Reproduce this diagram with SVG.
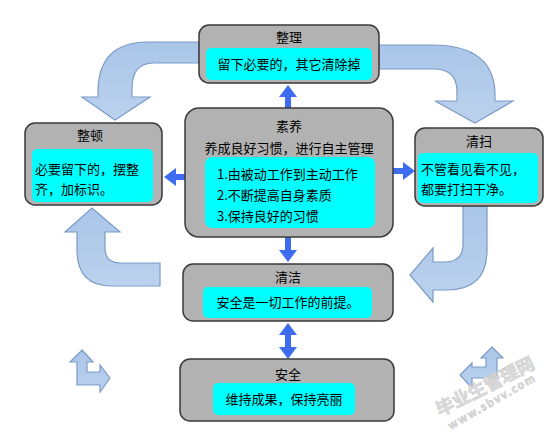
<svg xmlns="http://www.w3.org/2000/svg" width="559" height="436" viewBox="0 0 559 436">
<style>
.box{fill:#b2b2b2;stroke:#3a3a3a;stroke-width:1.5}
.inner{fill:#00ffff}
text{font-family:"Noto Sans CJK SC","Noto Sans",sans-serif;font-size:13px;fill:#000}
.c{text-anchor:middle}
.big{fill:url(#lb);stroke:#7b9bc7;stroke-width:1.2}
.con{stroke:#3d6cf0;stroke-width:6;fill:none}
.wm{fill:#dcdcdc;stroke:#c8c8c8;stroke-width:0.5;font-weight:bold}
</style>
<defs>
<linearGradient id="lb" x1="0" y1="0" x2="0" y2="1">
<stop offset="0" stop-color="#a9c5e8"/>
<stop offset="1" stop-color="#bcd2ee"/>
</linearGradient>
<marker id="ah" viewBox="0 0 12 18" refX="0" refY="9" markerWidth="12" markerHeight="18" markerUnits="userSpaceOnUse" orient="auto-start-reverse">
<path d="M0,0 L12,9 L0,18 Z" fill="#3d6cf0"/>
</marker>
</defs>
<rect width="559" height="436" fill="#ffffff"/>

<g id="cycle-arrows">
<path class="big" d="M199,42 L148,42 Q98,42 98,92 L98,97 L82,97 L115,120 L150,97 L132,97 L132,88 Q132,63 154,63 L199,63 Z"/>
<path class="big" d="M379,45 L432,45 Q495,45 495,95 L495,101 L513,101 L475,123 L435,101 L457,101 L457,92 Q457,69 434,69 L379,69 Z"/>
<path class="big" d="M463,206 L487,206 L487,250 Q487,290 447,290 L433,290 L433,302 L410,275 L433,248 L433,262 L445,262 Q463,262 463,244 Z"/>
<path class="big" d="M160,263 L160,286 L112,286 Q77,286 77,250 L77,232 L65,232 L92,208 L120,232 L105,232 L105,248 Q105,263 120,263 Z"/>
<path class="big" d="M82,350 L93,362 L87,362 L87,372 L100,372 L100,365 L110,378 L100,392 L100,385 L77,385 L77,362 L70,362 Z"/>
<path class="big" d="M492,347 L503,358 L497,358 L497,378 L472,378 L472,388 L460,375 L472,363 L472,367 L486,367 L486,358 L481,358 Z"/>
</g>

<g id="connectors">
<line class="con" x1="288" y1="108" x2="288" y2="97" marker-end="url(#ah)"/>
<line class="con" x1="185" y1="177" x2="176" y2="177" marker-end="url(#ah)"/>
<line class="con" x1="393" y1="171" x2="403" y2="171" marker-end="url(#ah)"/>
<line class="con" x1="288" y1="237" x2="288" y2="250" marker-end="url(#ah)"/>
<line class="con" x1="288" y1="335" x2="288" y2="347" marker-start="url(#ah)" marker-end="url(#ah)"/>
</g>

<g id="zhengli">
<rect class="box" x="199" y="25" width="180" height="58" rx="10"/>
<rect class="inner" x="206" y="48" width="166" height="32" rx="5"/>
<text class="c" x="289" y="42">整理</text>
<text class="c" x="289" y="69">留下必要的，其它清除掉</text>
</g>

<g id="zhengdun">
<rect class="box" x="25" y="123" width="137" height="82" rx="10"/>
<rect class="inner" x="32" y="149" width="121" height="53" rx="5"/>
<text class="c" x="90" y="140">整顿</text>
<text x="35" y="174">必要留下的，摆整</text>
<text x="35" y="194">齐，加标识。</text>
</g>

<g id="suyang">
<rect class="box" x="185" y="108" width="208" height="129" rx="14"/>
<rect class="inner" x="205" y="157" width="170" height="71" rx="7"/>
<text class="c" x="289" y="131">素养</text>
<text class="c" x="289" y="153">养成良好习惯，进行自主管理</text>
<text x="217" y="179">1.由被动工作到主动工作</text>
<text x="217" y="200">2.不断提高自身素质</text>
<text x="217" y="221">3.保持良好的习惯</text>
</g>

<g id="qingsao">
<rect class="box" x="415" y="128" width="128" height="78" rx="10"/>
<rect class="inner" x="418" y="153" width="120" height="50" rx="5"/>
<text class="c" x="479" y="146">清扫</text>
<text x="421" y="174">不管看见看不见，</text>
<text x="421" y="194">都要打扫干净。</text>
</g>

<g id="qingjie">
<rect class="box" x="183" y="264" width="210" height="57" rx="10"/>
<rect class="inner" x="203" y="287" width="169" height="31" rx="5"/>
<text class="c" x="288" y="282">清洁</text>
<text class="c" x="288" y="307">安全是一切工作的前提。</text>
</g>

<g id="anquan">
<rect class="box" x="180" y="359" width="214" height="62" rx="10"/>
<rect class="inner" x="213" y="383" width="142" height="32" rx="5"/>
<text class="c" x="288" y="379">安全</text>
<text class="c" x="284" y="404">维持成果，保持亮丽</text>
</g>

<g id="watermark">
<text class="wm c" transform="translate(488,392) rotate(-27)" style="font-size:18px">毕业生管理网</text>
<text class="wm c" transform="translate(494,405) rotate(-30)" style="font-size:11px;letter-spacing:1.5px">www.sbvv.com</text>
</g>
</svg>
